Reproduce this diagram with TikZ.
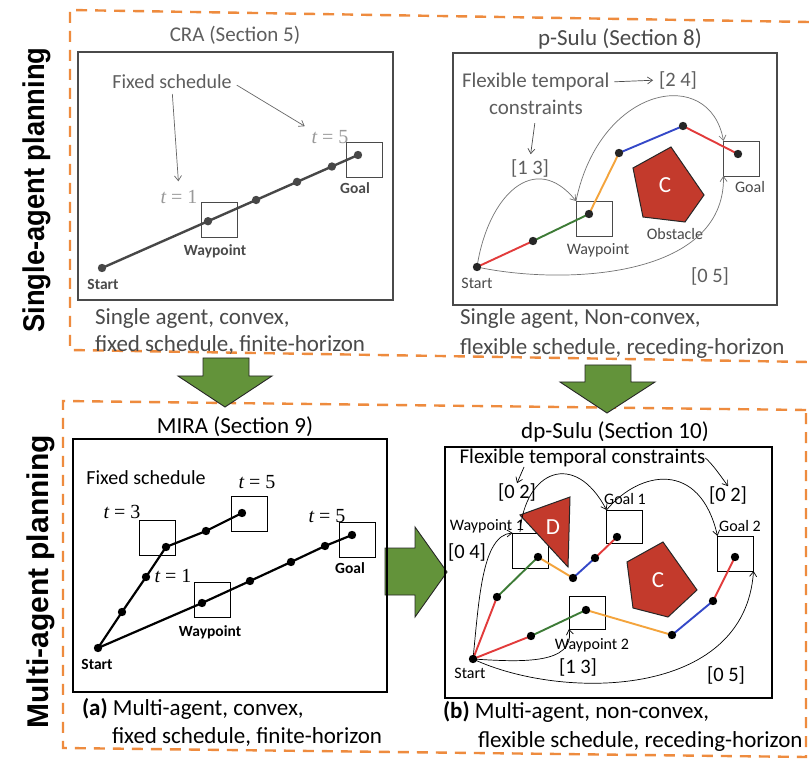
\documentclass[tikz,border=0pt]{standalone}
\usepackage{fontspec}
\setmainfont{Carlito}
\newfontfamily\sidefont{Liberation Sans}
\newfontfamily\serifit{Liberation Serif}
\usetikzlibrary{arrows.meta,calc}
\newcommand\fsz[1]{\fontsize{#1}{#1}\selectfont}
\definecolor{dashorange}{HTML}{EE8B3E}
\definecolor{arrowgreen}{HTML}{63933A}
\definecolor{obsred}{HTML}{C33A2C}
\definecolor{segred}{HTML}{E23B3B}
\definecolor{seggreen}{HTML}{3D7B36}
\definecolor{segorange}{HTML}{F4A43C}
\definecolor{segblue}{HTML}{3448C8}
\definecolor{inkgray}{HTML}{4A4A4A}
\definecolor{lightink}{HTML}{5E5E5E}
\begin{document}
\begin{tikzpicture}[x=1pt,y=-1pt,
  every node/.style={inner sep=0pt,outer sep=0pt},
  dashbox/.style={draw=dashorange,line width=2.4pt,dash pattern=on 11pt off 8pt},
  panel/.style={draw,line width=1.1pt,anchor=north west},
  wbox/.style={draw,line width=0.9pt,minimum width=36pt,minimum height=35pt},
  title/.style={font=\fsz{23}},
  capt/.style={font=\fsz{23},anchor=base west},
  small/.style={font=\fsz{16}},
  smallb/.style={font=\fsz{15.5}\bfseries},
  tlab/.style={font=\serifit\fsz{20}},
  bracket/.style={font=\fsz{20.5}},
  trail/.style={line width=2.4pt},
  seg/.style={line width=1.9pt},
  cons/.style={line width=0.7pt,-{Straight Barb[length=5pt,width=7pt]}},
  obstacle/.style={fill=obsred,draw=black!85,line width=1pt},
  blockarrow/.style={fill=arrowgreen,draw=black!85,line width=0.9pt}
]
\useasboundingbox (0,0) rectangle (809,759);
\fill[white] (0,0) rectangle (809,759);

% ---------- row labels ----------
\node[rotate=90,anchor=base] (sideSingle) at (44,190)
  {\sidefont\bfseries\fsz{30}\scalebox{0.91}[1]{Single-agent planning}};
\node[rotate=90,anchor=base] (sideMulti) at (48,582)
  {\sidefont\bfseries\fsz{30}\scalebox{1.0}[1]{Multi-agent planning}};

% ---------- dashed groups ----------
\draw[dashbox] (809,22) -- (70,10) -- (70,350) -- (809,362);
\draw[dashbox] (806,410) -- (63,401) -- (63,748) -- (806,757) -- cycle;

% ---------- block arrows between the panels ----------
\filldraw[blockarrow] (385,548) -- (415,548) -- (415,527) -- (447,572) -- (415,617) -- (415,595) -- (385,595) -- cycle;
\filldraw[blockarrow] (203,358) -- (249,358) -- (249,376) -- (272,376) -- (225,407) -- (178,376) -- (203,376) -- cycle;
\filldraw[blockarrow] (585,365) -- (631,365) -- (631,382) -- (655,382) -- (607,413) -- (560,382) -- (585,382) -- cycle;

% =============== CRA ===============
\node[panel,draw=inkgray,minimum width=315pt,minimum height=248pt] (craPanel) at (78,52) {};
\node[font=\fsz{21},text=lightink] (craTitle) at (235,35) {CRA (Section 5)};
\node[font=\fsz{20},text=lightink] (craFixed) at (172,82) {Fixed schedule};
\node[tlab,text=black!40] (craT1) at (179,197) {\itshape t\upshape\ = 1};
\node[tlab,text=black!40] (craT5) at (330,137) {\itshape t\upshape\ = 5};
\node[wbox,draw=inkgray] (craWp) at (219,219.5) {};
\node[wbox,draw=inkgray] (craGoal) at (364,160) {};
\coordinate (craS) at (102,268);
\coordinate (craE) at (358,155);
\draw[trail,draw=black!72] (craS) -- (craE);
\foreach \t in {0,0.414,0.602,0.762,0.898,1}
  \fill[black!72] ($(craS)!\t!(craE)$) circle[radius=4.2];
\node[smallb,text=inkgray] (craStart) at (103,284) {Start};
\node[smallb,text=inkgray] (craWpLbl) at (215,251) {Waypoint};
\node[smallb,text=inkgray] (craGoalLbl) at (355,188) {Goal};
\draw[cons,draw=black!60,shorten <=5pt,shorten >=9pt] (craFixed.south) -- (craT1.north);
\draw[cons,draw=black!60,shorten <=6pt,shorten >=8pt] (craFixed.east) -- (craT5.north west);
\node[capt,text=inkgray] (craCap1) at (95,325) {Single agent, convex,};
\node[capt,text=inkgray] (craCap2) at (95,352) {fixed schedule, finite-horizon};

% =============== p-Sulu ===============
\node[panel,draw=inkgray,minimum width=324pt,minimum height=252pt] (psPanel) at (453,53) {};
\node[title,text=inkgray] (psTitle) at (620,39) {p-Sulu (Section 8)};
\node[font=\fsz{21},text=lightink,anchor=west] (psFlexA) at (462,82) {Flexible temporal};
\node[font=\fsz{21},text=lightink] (psFlexB) at (536,107) {constraints};
\node[bracket,text=lightink] (ps24) at (678,80) {[2 4]};
\node[bracket,text=lightink] (ps13) at (530,168) {[1 3]};
\node[bracket,text=lightink] (ps05) at (710,276) {[0 5]};
\draw[cons,draw=black!70,shorten <=5pt,shorten >=6pt] (psFlexA.east) -- (ps24.west);
\draw[cons,draw=black!70,shorten <=9pt,shorten >=5pt] (psFlexB.south) -- (ps13.north);
\node[wbox,draw=inkgray] (psWpBox) at (594,218.5) {};
\node[wbox,draw=inkgray] (psGoalBox) at (741.5,158.5) {};
\filldraw[obstacle] (633,168) -- (671,147) -- (704,195) -- (685,222) -- (643,217) -- cycle;
\node[font=\fsz{23},text=white] (psC) at (665,185) {C};
\node[small,text=inkgray] (psObs) at (675,234) {Obstacle};
\coordinate (psS) at (477,267);
\coordinate (psD1) at (533,241);
\coordinate (psWp) at (589,214);
\coordinate (psD3) at (619,153);
\coordinate (psD4) at (683,126);
\coordinate (psG) at (738,154);
\draw[cons,draw=black!55] (psS) .. controls (488,195) and (535,150) .. (psWpBox.north west);
\draw[cons,draw=black!55] (psWpBox.north west) .. controls (600,85) and (710,65) .. (psGoalBox.north west);
\draw[cons,draw=black!55] (psS) .. controls (560,285) and (725,280) .. (psGoalBox.south west);
\draw[seg,segred] (psS) -- (psD1);
\draw[seg,seggreen] (psD1) -- (psWp);
\draw[seg,segorange] (psWp) -- (psD3);
\draw[seg,segblue] (psD3) -- (psD4);
\draw[seg,segred] (psD4) -- (psG);
\foreach \p in {psS,psD1,psWp,psD3,psD4,psG} \fill[black!85] (\p) circle[radius=4.2];
\node[small,text=inkgray] (psStart) at (477,283) {Start};
\node[small,text=inkgray] (psWpLbl) at (598,250) {Waypoint};
\node[small,text=inkgray] (psGoalLbl) at (750,187) {Goal};
\node[capt,text=inkgray] (psCap1) at (460,325) {Single agent, Non-convex,};
\node[capt,text=inkgray] (psCap2) at (460,355) {flexible schedule, receding-horizon};

% =============== MIRA ===============
\node[panel,minimum width=314pt,minimum height=253pt] (miPanel) at (73,439) {};
\node[title] (miTitle) at (235,427) {MIRA (Section 9)};
\node[font=\fsz{20}] (miFixed) at (146,478) {Fixed schedule};
\node[wbox] (miA) at (157.5,538) {};
\node[wbox] (miB) at (249.5,514) {};
\node[wbox] (miWp) at (212.5,600) {};
\node[wbox] (miGoal) at (357,540) {};
\node[tlab] (miT5a) at (257,482) {\itshape t\upshape\ = 5};
\node[tlab] (miT3) at (122,512) {\itshape t\upshape\ = 3};
\node[tlab] (miT5b) at (327,516) {\itshape t\upshape\ = 5};
\node[tlab] (miT1) at (173,576) {\itshape t\upshape\ = 1};
\coordinate (miS) at (98,648);
\coordinate (miP1) at (122,612);
\coordinate (miP2) at (146,577);
\coordinate (miP3) at (166,547);
\coordinate (miP4) at (206,531);
\coordinate (miP5) at (242,513);
\coordinate (miQ1) at (202,603);
\coordinate (miQ2) at (250,581);
\coordinate (miQ3) at (291,562);
\coordinate (miQ4) at (325,546);
\coordinate (miQ5) at (352,535);
\draw[trail,line width=2.2pt] (miS) -- (miP1) -- (miP2) -- (miP3) -- (miP4) -- (miP5);
\draw[trail,line width=2.2pt] (miS) -- (miQ1) -- (miQ2) -- (miQ3) -- (miQ4) -- (miQ5);
\foreach \p in {miS,miP1,miP2,miP3,miP4,miP5,miQ1,miQ2,miQ3,miQ4,miQ5}
  \fill (\p) circle[radius=4.2];
\node[smallb] (miStart) at (97,664) {Start};
\node[smallb] (miWpLbl) at (210,632) {Waypoint};
\node[smallb] (miGoalLbl) at (350,568) {Goal};
\node[capt] (miCap1) at (82,715) {\textbf{(a)} Multi-agent, convex,};
\node[capt] (miCap2) at (112,743) {fixed schedule, finite-horizon};

% =============== dp-Sulu ===============
\node[panel,minimum width=327pt,minimum height=251pt] (dpPanel) at (445,447) {};
\node[title] (dpTitle) at (615,432) {dp-Sulu (Section 10)};
\node[font=\fsz{21}] (dpFlex) at (582.5,458) {Flexible temporal constraints};
\node[wbox,minimum height=35pt] (dpWp1) at (530.5,550.5) {};
\node[wbox,minimum height=33pt] (dpG1) at (624.5,526.5) {};
\node[wbox] (dpG2) at (735.5,553.5) {};
\node[wbox,minimum height=33pt] (dpWp2) at (587,612.5) {};
\filldraw[obstacle] (520,515) -- (570,497) -- (568,567) -- cycle;
\node[font=\fsz{23},text=white] (dpD) at (553,527) {D};
\filldraw[obstacle] (627,562) -- (663,542) -- (697,590) -- (668,617) -- (633,608) -- cycle;
\node[font=\fsz{23},text=white] (dpC) at (658,580) {C};
\node[bracket] (dpL02) at (517,492) {[0 2]};
\node[bracket] (dpR02) at (728,495) {[0 2]};
\node[bracket] (dp04) at (467,552) {[0 4]};
\node[bracket] (dp13) at (578,667) {[1 3]};
\node[bracket] (dp05) at (726,675) {[0 5]};
\node[small] (dpWp1Lbl) at (487,526) {Waypoint 1};
\node[small] (dpG1Lbl) at (625,499) {Goal 1};
\node[small] (dpG2Lbl) at (740,526) {Goal 2};
\node[small] (dpWp2Lbl) at (592,645) {Waypoint 2};
\node[small] (dpStart) at (470,673) {Start};
\coordinate (dpS) at (473,659);
\coordinate (dpA1) at (497,597);
\coordinate (dpA2) at (538,557);
\coordinate (dpA3) at (573,578);
\coordinate (dpA4) at (595,558);
\coordinate (dpA5) at (617,537);
\coordinate (dpB1) at (531,636);
\coordinate (dpB2) at (586,610);
\coordinate (dpB3) at (672,635);
\coordinate (dpB4) at (713,601);
\coordinate (dpB5) at (735,557);
\coordinate (dpHookL) at (524,467);
\coordinate (dpWp1Top) at (520,532);
% temporal constraint arcs
\draw[cons] (dpHookL) -- (dpL02.north);
\draw[cons] (dpFlex.east) .. controls (712,464) and (718,472) .. (dpR02.north);
\draw[cons] (dpS) .. controls (479,600) and (482,535) .. (dpWp1.north west);
\draw[cons] (dpWp1Top) .. controls (525,470) and (575,450) .. (dpG1.north west);
\draw[cons] (dpG1.north west) .. controls (640,470) and (700,460) .. (dpG2.north west);
\draw[cons] (dpS) .. controls (520,662) and (575,665) .. (dpWp2.south west);
\draw[cons] (dpS) .. controls (560,700) and (745,700) .. (dpG2.south east);
% agent trajectories
\draw[seg,segred] (dpS) -- (dpA1);
\draw[seg,seggreen] (dpA1) -- (dpA2);
\draw[seg,segorange] (dpA2) -- (dpA3);
\draw[seg,segblue] (dpA3) -- (dpA4);
\draw[seg,segred] (dpA4) -- (dpA5);
\draw[seg,segred] (dpS) -- (dpB1);
\draw[seg,seggreen] (dpB1) -- (dpB2);
\draw[seg,segorange] (dpB2) -- (dpB3);
\draw[seg,segblue] (dpB3) -- (dpB4);
\draw[seg,segred] (dpB4) -- (dpB5);
\foreach \p in {dpS,dpA1,dpA2,dpA3,dpA4,dpA5,dpB1,dpB2,dpB3,dpB4,dpB5}
  \fill (\p) circle[radius=4.2];
\node[capt] (dpCap1) at (443,718) {\textbf{(b)} Multi-agent, non-convex,};
\node[capt] (dpCap2) at (478,747) {flexible schedule, receding-horizon};
\end{tikzpicture}
\end{document}
